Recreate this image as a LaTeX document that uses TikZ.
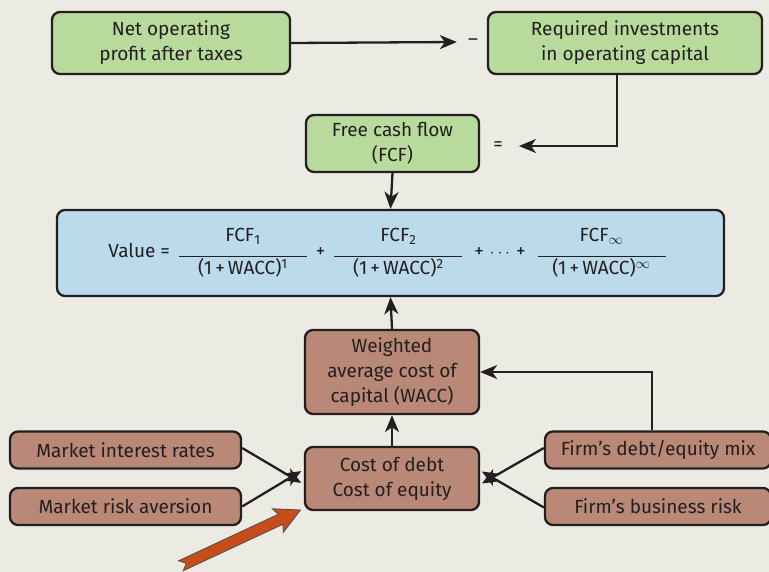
\documentclass[tikz,border=0pt]{standalone}
\usepackage{fontspec}
\setmainfont{Fira Sans}
\usetikzlibrary{arrows.meta,calc}
\definecolor{bg}{HTML}{ECEBE3}
\definecolor{gr}{HTML}{B8DA9C}
\definecolor{bl}{HTML}{BBDAEC}
\definecolor{br}{HTML}{B98877}
\definecolor{ln}{HTML}{231F20}
\definecolor{org}{HTML}{C84B1A}
\setlength{\arrayrulewidth}{1.3pt}
\newcommand{\myfrac}[2]{\begin{tabular}{@{}c@{}}\rule[-14pt]{0pt}{26pt}\makebox[128pt]{#1}\\\hline\rule[-6pt]{0pt}{23pt}\makebox[128pt]{#2}\end{tabular}}
\begin{document}
\begin{tikzpicture}[x=1pt,y=-1pt,
  font=\fontsize{19}{25}\selectfont,
  boxbase/.style={draw=ln,line width=2.3pt,rounded corners=8pt,align=center,inner sep=0pt,text=ln},
  gbox/.style={boxbase,fill=gr},
  bbox/.style={boxbase,fill=bl},
  rbox/.style={boxbase,fill=br},
  arr/.style={draw=ln,line width=2.3pt,-{Stealth[length=17pt,width=14pt,inset=5pt]}},
  sym/.style={inner sep=2pt,text=ln}]
\fill[bg] (0,0) rectangle (769,572);
\useasboundingbox (0,0) rectangle (769,572);
% green boxes
\node[gbox,minimum width=238,minimum height=62] (nopat) at (171,43) {Net operating\\profit after taxes};
\node[gbox,minimum width=274,minimum height=62] (req) at (625,43) {Required investments\\in operating capital};
\node[gbox,minimum width=173,minimum height=57] (fcf) at (392.5,143.5) {Free cash flow\\(FCF)};
\node[sym] (minus) at (473,42) {–};
\node[sym] (eq) at (498,146) {=};
% value box
\node[bbox,minimum width=667,minimum height=86] (val) at (390.5,253) {Value =\hspace{9pt}\myfrac{FCF\textsubscript{1}}{(1\,+\,WACC)\textsuperscript{1}}\hspace{9pt}+\hspace{9pt}\myfrac{FCF\textsubscript{2}}{(1\,+\,WACC)\textsuperscript{2}}\hspace{12pt}+\hspace{6pt}$\cdots$\hspace{6pt}+\hspace{12pt}\myfrac{FCF\textsubscript{$\infty$}}{(1\,+\,WACC)\textsuperscript{$\infty$}}\hspace{7pt}};
% brown boxes
\node[rbox,minimum width=174,minimum height=84] (wacc) at (392,372) {Weighted\\average cost of\\capital (WACC)};
\node[rbox,minimum width=174,minimum height=63] (cost) at (392,478.5) {Cost of debt\\Cost of equity};
\node[rbox,minimum width=231,minimum height=37] (mir) at (125.5,450) {Market interest rates};
\node[rbox,minimum width=231,minimum height=37] (mra) at (125.5,506.5) {Market risk aversion};
\node[rbox,minimum width=226,minimum height=37] (dem) at (658,450) {Firm’s debt/equity mix};
\node[rbox,minimum width=226,minimum height=37] (fbr) at (658,506.5) {Firm’s business risk};
% connectors
\draw[arr] (nopat.east) -- ([xshift=-9pt]minus.west);
\draw[arr] (req.south -| 617,0) |- ([xshift=14pt]eq.east);
\draw[arr] (fcf.south) -- (val.north);
\draw[arr] (wacc.north) -- (val.south);
\draw[arr] (cost.north) -- (wacc.south);
\draw[arr,shorten >=3pt] ([yshift=2pt]mir.east) -- ([yshift=-6pt]cost.west);
\draw[arr,shorten >=3pt] (mra.east) -- ([yshift=9pt]cost.west);
\draw[arr,shorten >=2pt] ([yshift=2pt]dem.west) -- ([yshift=-6pt]cost.east);
\draw[arr,shorten >=2pt] ([yshift=-1pt]fbr.west) -- ([yshift=8pt]cost.east);
\draw[arr] (dem.north -| 652,0) |- (wacc.east);
% orange block arrow
\coordinate (otip) at (300.5,510);
\begin{scope}[shift={(otip)},rotate=25]
\draw[fill=org,draw=ln!80,line width=0.8pt,line join=miter]
  (0,0) -- (-25,13) -- (-22,5.5) -- (-132,5.5) -- (-126,0) -- (-132,-5.5) -- (-22,-5.5) -- (-25,-13) -- cycle;
\end{scope}
\end{tikzpicture}
\end{document}
